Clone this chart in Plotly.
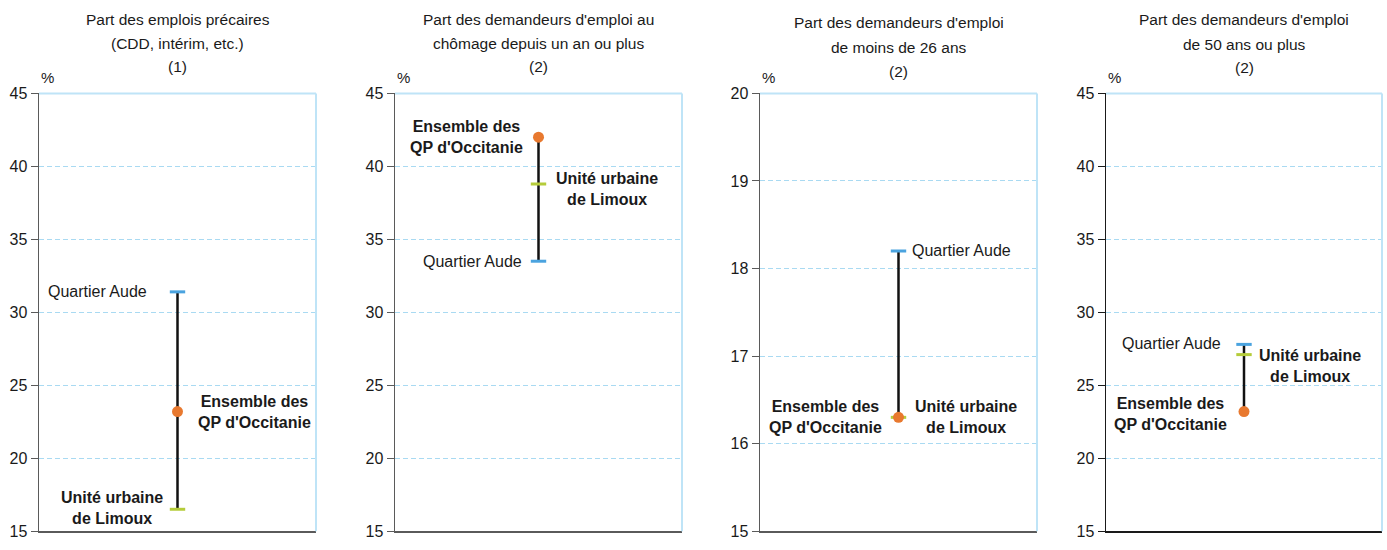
import plotly.graph_objects as go

# ---------------- data ----------------
title_lines = [
    ["Part des emplois précaires", "(CDD, intérim, etc.)", "(1)"],
    ["Part des demandeurs d'emploi au", "chômage depuis un an ou plus", "(2)"],
    ["Part des demandeurs d'emploi", "de moins de 26 ans", "(2)"],
    ["Part des demandeurs d'emploi", "de 50 ans ou plus", "(2)"],
]
quartier_aude = [31.4, 33.5, 18.2, 27.8]
unite_urbaine_limoux = [16.5, 38.8, 16.3, 27.1]
ensemble_qp_occitanie = [23.2, 42.0, 16.3, 23.2]
y_ranges = [[15, 45], [15, 45], [15, 20], [15, 45]]
y_dticks = [5, 5, 1, 5]
unit_label = "%"
label_quartier = "Quartier Aude"
label_unite = "Unité urbaine<br>de Limoux"
label_ensemble = "Ensemble des<br>QP d'Occitanie"

# ---------------- layout / style ----------------
W, H = 1387, 550
# target screen positions -> figure positions (observed vertical mapping)
Y_OFF, Y_SCALE = 7.0, 550.0 / 543.0
FONT = "Liberation Sans, Arial, Helvetica, sans-serif"
px_domains = [(39, 316), (395, 682), (760, 1037), (1106, 1382)]
px_top, px_bottom = 94, 540
title_y_px = [(19, 43, 67), (19, 43, 67), (22, 47, 72), (19, 44, 68)]
pct_y_px = 78
axis_colors = ["#5a5a5a", "#5a5a5a", "#5a5a5a", "#1a1a1a"]
c_blue, c_green, c_orange = "#4aa3df", "#b5cc3a", "#e8792f"
grid_color = "#a9daf2"
border_color = "#bfe4f7"

# label placement: (side, gap px, yshift px) for quartier, unite, ensemble
placements = [
    [("left", 30, 0), ("left", 14, 1), ("right", 19, 0)],
    [("left", 16, 0), ("right", 16, -5), ("left", 15, 0)],
    [("right", 12, 0), ("right", 15, 0), ("left", 16, 0)],
    [("left", 22, 1), ("right", 14, -11), ("left", 16, -2)],
]


def fx(px):
    return px / W


def fy(py):
    return 1 - ((py - Y_OFF) * Y_SCALE) / H


fig = go.Figure()
annotations = []
shapes = []
layout_axes = {}

for i in range(4):
    xa = "x" if i == 0 else f"x{i+1}"
    ya = "y" if i == 0 else f"y{i+1}"
    xkey = "xaxis" if i == 0 else f"xaxis{i+1}"
    ykey = "yaxis" if i == 0 else f"yaxis{i+1}"
    x0, x1 = px_domains[i]
    vals = [quartier_aude[i], unite_urbaine_limoux[i], ensemble_qp_occitanie[i]]

    # vertical range line
    fig.add_trace(go.Scatter(
        x=[0, 0], y=[min(vals), max(vals)], mode="lines",
        line=dict(color="#111111", width=2.5), xaxis=xa, yaxis=ya,
        hoverinfo="skip", showlegend=False))
    # markers
    fig.add_trace(go.Scatter(
        x=[0], y=[quartier_aude[i]], mode="markers", xaxis=xa, yaxis=ya,
        marker=dict(symbol="line-ew", size=11, color=c_blue,
                    line=dict(color=c_blue, width=3)),
        name="Quartier Aude", showlegend=False))
    fig.add_trace(go.Scatter(
        x=[0], y=[unite_urbaine_limoux[i]], mode="markers", xaxis=xa, yaxis=ya,
        marker=dict(symbol="line-ew", size=11, color=c_green,
                    line=dict(color=c_green, width=3)),
        name="Unité urbaine de Limoux", showlegend=False))
    fig.add_trace(go.Scatter(
        x=[0], y=[ensemble_qp_occitanie[i]], mode="markers", xaxis=xa, yaxis=ya,
        marker=dict(symbol="circle", size=11, color=c_orange,
                    line=dict(width=0)),
        name="Ensemble des QP d'Occitanie", showlegend=False))

    layout_axes[xkey] = dict(
        domain=[fx(x0), fx(x1)], range=[-1, 1], showticklabels=False,
        ticks="", showgrid=False, zeroline=False, fixedrange=True,
        showline=True, linecolor=axis_colors[i], linewidth=1.5,
        anchor=ya)
    layout_axes[ykey] = dict(
        domain=[fy(px_bottom), fy(px_top)], range=y_ranges[i],
        dtick=y_dticks[i], tick0=15, ticks="outside", ticklen=7,
        tickcolor=axis_colors[i], tickwidth=1,
        showline=True, linecolor=axis_colors[i], linewidth=1.5,
        showgrid=True, gridcolor=grid_color, griddash="5px,3px", gridwidth=1,
        zeroline=False, fixedrange=True,
        tickfont=dict(family=FONT, size=16, color="#1a1a1a"),
        anchor=xa)

    # top and right light-blue borders
    shapes.append(dict(type="line", xref=f"{xa} domain", yref=f"{ya} domain",
                       x0=0, x1=1, y0=1, y1=1,
                       line=dict(color=border_color, width=2)))
    shapes.append(dict(type="line", xref=f"{xa} domain", yref=f"{ya} domain",
                       x0=1, x1=1, y0=0, y1=1,
                       line=dict(color=border_color, width=2)))

    # titles
    for line_txt, ypx in zip(title_lines[i], title_y_px[i]):
        annotations.append(dict(
            text=line_txt, xref=f"{xa} domain", x=0.5, yref="paper",
            y=fy(ypx), xanchor="center", yanchor="middle",
            showarrow=False, font=dict(family=FONT, size=15.5, color="#1a1a1a")))
    # % unit
    annotations.append(dict(
        text=unit_label, xref=f"{xa} domain", x=0, yref="paper",
        y=fy(pct_y_px), xanchor="left", yanchor="middle",
        showarrow=False, font=dict(family=FONT, size=15, color="#1a1a1a")))

    # point labels
    texts = [label_quartier, "<b>" + label_unite + "</b>",
             "<b>" + label_ensemble + "</b>"]
    for txt, v, (side, gap, ysh) in zip(texts, vals, placements[i]):
        annotations.append(dict(
            text=txt, xref=xa, yref=ya, x=0, y=v,
            xanchor="right" if side == "left" else "left", yanchor="middle",
            xshift=-gap if side == "left" else gap, yshift=ysh,
            align="center", showarrow=False, borderpad=0,
            font=dict(family=FONT, size=16, color="#1a1a1a")))

fig.update_layout(
    width=W, height=H, margin=dict(l=0, r=0, t=0, b=0),
    paper_bgcolor="white", plot_bgcolor="white",
    showlegend=False, annotations=annotations, shapes=shapes,
    **layout_axes)

# pin the graph to the top-left corner of the page (no body margin / scrolling)
pin_js = (
    "document.documentElement.style.margin='0';"
    "document.body.style.margin='0';"
    "document.body.style.overflow='hidden';"
    "var d=document.getElementById('{plot_id}');"
    "d.style.position='fixed';d.style.left='0px';d.style.top='0px';"
)

fig.write_html("out.html", post_script=pin_js,
               config={"displayModeBar": False, "staticPlot": True})
